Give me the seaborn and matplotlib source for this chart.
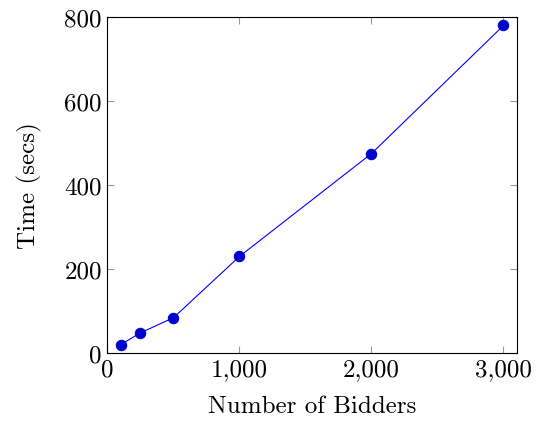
import pandas as pd
import numpy as np
import matplotlib
matplotlib.use('Agg')
import matplotlib.pyplot as plt
import matplotlib.ticker as mticker
import seaborn as sns

# Data
bidders = [100, 250, 500, 1000, 2000, 3000]
time_secs = [20, 48, 84, 230, 475, 780]

x_ticks = [0, 1000, 2000, 3000]
y_ticks = [0, 200, 400, 600, 800]

chart_df = pd.DataFrame({'bidders': bidders, 'time': time_secs})

sns.set_theme(style = 'ticks')
plt.rcParams['font.family'] = ['serif']
plt.rcParams['font.serif'] = ['cmr10', 'DejaVu Serif']
plt.rcParams['mathtext.fontset'] = 'cm'
plt.rcParams['axes.formatter.use_mathtext'] = True

fig = plt.figure(figsize = (5.38, 4.31), dpi = 100)
ax = fig.add_axes([0.1998, 0.1787, 0.9604 - 0.1998, 0.958 - 0.1787])

sns.lineplot(ax = ax,
             data = chart_df,
             x = 'bidders',
             y = 'time',
             color = '#0000ff',
             linewidth = 0.8,
             marker = 'o',
             markersize = 7.5,
             markerfacecolor = '#0000cc',
             markeredgecolor = '#0000cc')

ax.set_xlim(0, 3100)
ax.set_ylim(0, 800)
ax.set_xticks(x_ticks)
ax.set_yticks(y_ticks)
ax.xaxis.set_major_formatter(mticker.FuncFormatter(lambda v, p: f'{v:,.0f}'))
ax.yaxis.set_major_formatter(mticker.FuncFormatter(lambda v, p: f'{v:,.0f}'))

ax.tick_params(direction = 'in', length = 5, width = 0.8, color = '#999999',
               labelsize = 18, labelcolor = 'black', top = True, right = True, pad = 4)
for s in ax.spines.values():
    s.set_linewidth(0.8)
    s.set_color('black')

ax.set_xlabel('Number of Bidders', fontsize = 18, color = 'black', labelpad = 10)
ax.set_ylabel('Time (secs)', fontsize = 18, color = 'black', labelpad = 16)

fig.savefig('out.png', dpi = 100)
plt.close()
